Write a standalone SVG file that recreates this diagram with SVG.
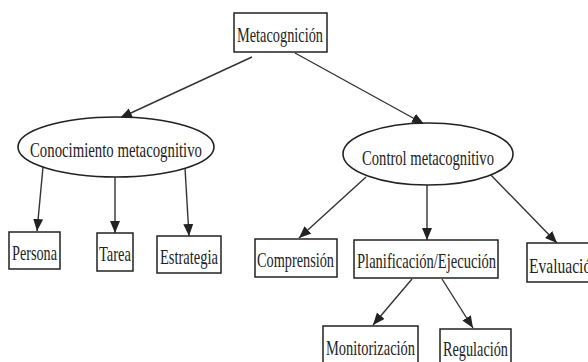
<svg xmlns="http://www.w3.org/2000/svg" width="588" height="362" viewBox="0 0 588 362">
<style>
.box{fill:#fff;stroke:#222;stroke-width:1.5}
.ell{fill:#fff;stroke:#222;stroke-width:1.6}
.t{font-family:"Liberation Serif","Times New Roman",serif;font-size:22px;fill:#222}
.c{fill:none;stroke:#333;stroke-width:1.4;marker-end:url(#ah)}
</style>
<defs>
<marker id="ah" markerUnits="userSpaceOnUse" markerWidth="14" markerHeight="12" refX="12" refY="5" orient="auto">
<path d="M0,0 L12,5 L0,10 Z" fill="#222"/>
</marker>
</defs>
<rect width="588" height="362" fill="#fff"/>
<g id="connectors">
<line class="c" x1="252" y1="57" x2="120" y2="118"/>
<line class="c" x1="295" y1="53" x2="424" y2="124"/>
<line class="c" x1="43" y1="167" x2="37" y2="231"/>
<line class="c" x1="115" y1="177" x2="115" y2="233"/>
<line class="c" x1="185" y1="168" x2="189" y2="236"/>
<line class="c" x1="366" y1="177" x2="299" y2="238"/>
<line class="c" x1="427" y1="185" x2="427" y2="240"/>
<line class="c" x1="487" y1="171" x2="557" y2="243"/>
<line class="c" x1="412" y1="279" x2="373" y2="325"/>
<line class="c" x1="442" y1="279" x2="473" y2="328"/>
</g>
<g id="metacognicion">
<rect class="box" x="234" y="13" width="93" height="39"/>
<text class="t" x="237" y="42" textLength="86" lengthAdjust="spacingAndGlyphs">Metacognición</text>
</g>
<g id="conocimiento">
<ellipse class="ell" cx="116" cy="147" rx="98" ry="30"/>
<text class="t" x="30" y="157" textLength="172" lengthAdjust="spacingAndGlyphs">Conocimiento metacognitivo</text>
</g>
<g id="control">
<ellipse class="ell" cx="428" cy="154" rx="85" ry="31"/>
<text class="t" x="362" y="165" textLength="132" lengthAdjust="spacingAndGlyphs">Control metacognitivo</text>
</g>
<g id="persona">
<rect class="box" x="9" y="232" width="51" height="37"/>
<text class="t" x="12" y="260" textLength="45" lengthAdjust="spacingAndGlyphs">Persona</text>
</g>
<g id="tarea">
<rect class="box" x="97" y="233" width="36" height="38"/>
<text class="t" x="99" y="261" textLength="32" lengthAdjust="spacingAndGlyphs">Tarea</text>
</g>
<g id="estrategia">
<rect class="box" x="157" y="236" width="64" height="37"/>
<text class="t" x="160" y="264" textLength="58" lengthAdjust="spacingAndGlyphs">Estrategia</text>
</g>
<g id="comprension">
<rect class="box" x="255" y="239" width="82" height="38"/>
<text class="t" x="257" y="267" textLength="77" lengthAdjust="spacingAndGlyphs">Comprensión</text>
</g>
<g id="planificacion">
<rect class="box" x="354" y="240" width="144" height="38"/>
<text class="t" x="357" y="268" textLength="139" lengthAdjust="spacingAndGlyphs">Planificación/Ejecución</text>
</g>
<g id="evaluacion">
<rect class="box" x="527" y="243" width="76" height="39"/>
<text class="t" x="529" y="273" textLength="70" lengthAdjust="spacingAndGlyphs">Evaluación</text>
</g>
<g id="monitorizacion">
<rect class="box" x="323" y="326" width="95" height="40"/>
<text class="t" x="326" y="355" textLength="89" lengthAdjust="spacingAndGlyphs">Monitorización</text>
</g>
<g id="regulacion">
<rect class="box" x="440" y="329" width="71" height="40"/>
<text class="t" x="443" y="356" textLength="65" lengthAdjust="spacingAndGlyphs">Regulación</text>
</g>
</svg>
